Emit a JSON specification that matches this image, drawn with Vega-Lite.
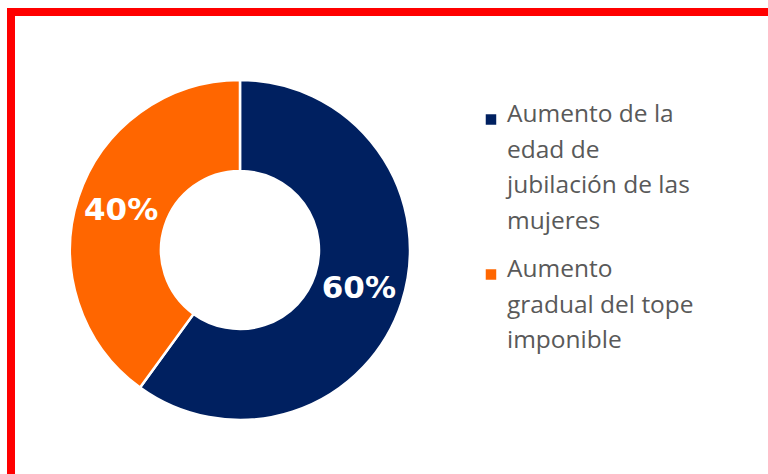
{
  "$schema": "https://vega.github.io/schema/vega-lite/v6.json",
  "width": 768,
  "height": 474,
  "autosize": {"type": "fit", "contains": "padding"},
  "padding": {"left": 11, "top": 12, "right": -5, "bottom": -4},
  "background": "#FFFFFF",
  "config": {"view": {"stroke": "#FF0000", "strokeWidth": 8}},
  "datasets": {
    "sectores": [
      {"categoria": "Aumento de la edad de jubilación de las mujeres", "valor": 60, "etiqueta": "60%", "orden": 1},
      {"categoria": "Aumento gradual del tope imponible", "valor": 40, "etiqueta": "40%", "orden": 2}
    ],
    "leyenda": [
      {"categoria": "Aumento de la edad de jubilación de las mujeres", "lineas": ["Aumento de la", "edad de", "jubilación de las", "mujeres"]},
      {"categoria": "Aumento gradual del tope imponible", "lineas": ["Aumento", "gradual del tope", "imponible"]}
    ]
  },
  "layer": [
    {
      "data": {"name": "sectores"},
      "mark": {"type": "arc", "outerRadius": 170, "innerRadius": 79, "stroke": "#FFFFFF", "strokeWidth": 2.5},
      "encoding": {
        "theta": {"field": "valor", "type": "quantitative", "stack": true},
        "order": {"field": "orden", "type": "quantitative"},
        "color": {"field": "categoria", "type": "nominal", "scale": {"domain": ["Aumento de la edad de jubilación de las mujeres", "Aumento gradual del tope imponible"], "range": ["#002060", "#FF6600"]}, "legend": null},
        "x": {"datum": 0.3005, "type": "quantitative", "scale": {"domain": [0, 1]}, "axis": null},
        "y": {"datum": 0.5107, "type": "quantitative", "scale": {"domain": [0, 1], "reverse": true}, "axis": null}
      }
    },
    {
      "data": {"name": "sectores"},
      "mark": {"type": "text", "radius": 125, "font": "DejaVu Sans", "fontWeight": "bold", "fontSize": 31, "fill": "#FFFFFF", "baseline": "middle", "align": "center"},
      "encoding": {
        "theta": {"field": "valor", "type": "quantitative", "stack": true},
        "order": {"field": "orden", "type": "quantitative"},
        "text": {"field": "etiqueta", "type": "nominal"},
        "x": {"datum": 0.3005, "type": "quantitative"},
        "y": {"datum": 0.5107, "type": "quantitative"}
      }
    },
    {
      "data": {"name": "leyenda"},
      "transform": [{"filter": "datum.categoria == 'Aumento de la edad de jubilación de las mujeres'"}],
      "layer": [
        {
          "mark": {"type": "point", "shape": "square", "filled": true, "size": 110, "opacity": 1},
          "encoding": {
            "color": {"field": "categoria", "type": "nominal"},
            "x": {"datum": 0.6299, "type": "quantitative"},
            "y": {"datum": 0.2307, "type": "quantitative"}
          }
        },
        {
          "mark": {"type": "text", "font": "Open Sans", "fontSize": 24.5, "lineHeight": 35.5, "fill": "#595959", "align": "left", "baseline": "alphabetic"},
          "encoding": {
            "text": {"field": "lineas", "type": "nominal"},
            "x": {"datum": 0.6509, "type": "quantitative"},
            "y": {"datum": 0.2361, "type": "quantitative"}
          }
        }
      ]
    },
    {
      "data": {"name": "leyenda"},
      "transform": [{"filter": "datum.categoria == 'Aumento gradual del tope imponible'"}],
      "layer": [
        {
          "mark": {"type": "point", "shape": "square", "filled": true, "size": 110, "opacity": 1},
          "encoding": {
            "color": {"field": "categoria", "type": "nominal"},
            "x": {"datum": 0.6299, "type": "quantitative"},
            "y": {"datum": 0.5633, "type": "quantitative"}
          }
        },
        {
          "mark": {"type": "text", "font": "Open Sans", "fontSize": 24.5, "lineHeight": 35.5, "fill": "#595959", "align": "left", "baseline": "alphabetic"},
          "encoding": {
            "text": {"field": "lineas", "type": "nominal"},
            "x": {"datum": 0.6509, "type": "quantitative"},
            "y": {"datum": 0.5687, "type": "quantitative"}
          }
        }
      ]
    }
  ]
}
